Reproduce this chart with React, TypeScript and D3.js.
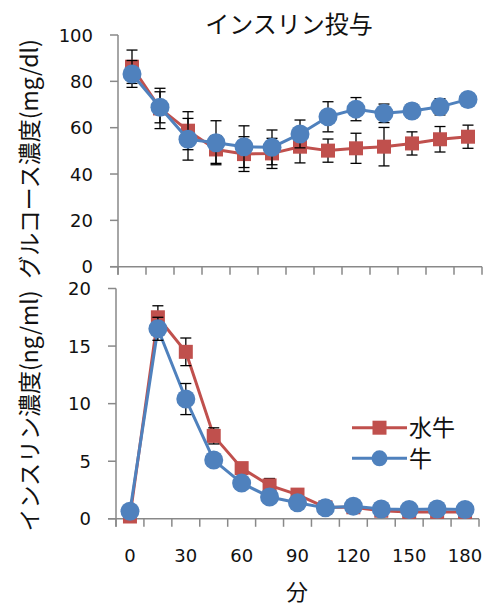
import React, { useRef, useEffect } from 'react';
import * as d3 from 'd3';

// minutes after insulin dose
const minutes = [0, 15, 30, 45, 60, 75, 90, 105, 120, 135, 150, 165, 180];
const xTickLabels = ['0', '30', '60', '90', '120', '150', '180'];

// glucose (mg/dl)
const glucoseTicks = [0, 20, 40, 60, 80, 100];
const glucoseBuffalo = [86.3, 68.3, 58.7, 50.6, 48.6, 48.9, 51.8, 50.1, 51.1, 51.8, 53.2, 55, 56.1];
const glucoseBuffaloErr = [7.2, 8.7, 8.2, 6, 7.5, 6.5, 7, 5, 6.5, 8.3, 5, 5.5, 5];
const glucoseCattle = [83.2, 68.8, 55, 53.5, 51.8, 51.5, 57.3, 64.7, 68, 66.2, 67.2, 69, 72.2];
const glucoseCattleErr = [5.8, 6.7, 9, 9.5, 9, 7.5, 6, 6.5, 5, 4, 3, 3.5, 2];

// insulin (ng/ml)
const insulinTicks = [0, 5, 10, 15, 20];
const insulinBuffalo = [0.2, 17.5, 14.5, 7.2, 4.4, 2.9, 2.1, 1.0, 1.0, 0.7, 0.6, 0.6, 0.6];
const insulinBuffaloErr = [0.1, 1.0, 1.2, 0.7, 0.4, 0.6, 0.3, 0.2, 0.2, 0.1, 0.1, 0.1, 0.1];
const insulinCattle = [0.66, 16.5, 10.4, 5.1, 3.1, 1.9, 1.4, 0.95, 1.1, 0.85, 0.8, 0.85, 0.8];
const insulinCattleErr = [0.1, 1.0, 1.35, 0.3, 0.3, 0.2, 0.2, 0.1, 0.1, 0.1, 0.1, 0.1, 0.1];

const RED = '#C0504D';
const BLUE = '#4F81BD';
const AXIS = '#898989';
const JP = '"Noto Sans CJK JP", "Noto Sans", sans-serif';
const NUM = '"DejaVu Sans", sans-serif';

const drawPanel = (svg, o) => {
  const g = svg.append('g');

  const x = d3.scaleBand().domain(minutes).range([o.x0, o.x1]).padding(0);
  const y = d3.scaleLinear().domain([0, o.max]).range([o.yBottom, o.yTop]);
  const cx = d => x(d) + x.bandwidth() / 2;

  // y axis line + ticks
  g.append('line')
    .attr('x1', o.x0).attr('x2', o.x0)
    .attr('y1', o.yTop).attr('y2', o.yBottom + 8)
    .attr('stroke', AXIS).attr('stroke-width', 1.5);
  g.selectAll('.ytick').data(o.ticks).enter().append('line')
    .attr('x1', o.x0 - 8).attr('x2', o.x0)
    .attr('y1', d => y(d)).attr('y2', d => y(d))
    .attr('stroke', AXIS).attr('stroke-width', 1.5);
  g.selectAll('.ylabel').data(o.ticks).enter().append('text')
    .attr('x', o.x0 - 25)
    .attr('y', d => y(d) + 6.5)
    .attr('text-anchor', 'end')
    .style('font-family', NUM).style('font-size', '18px')
    .attr('fill', '#111')
    .text(d => d);

  // x axis line + ticks between categories
  g.append('line')
    .attr('x1', o.x0 - 8).attr('x2', o.x1)
    .attr('y1', o.yBottom).attr('y2', o.yBottom)
    .attr('stroke', AXIS).attr('stroke-width', 1.5);
  const edges = minutes.map(d => x(d)).concat([o.x1]);
  g.selectAll('.xtick').data(edges).enter().append('line')
    .attr('x1', d => d).attr('x2', d => d)
    .attr('y1', o.yBottom).attr('y2', o.yBottom + 8)
    .attr('stroke', AXIS).attr('stroke-width', 1.5);

  if (o.showXLabels) {
    g.selectAll('.xlabel').data(xTickLabels).enter().append('text')
      .attr('x', d => cx(+d))
      .attr('y', o.yBottom + 43)
      .attr('text-anchor', 'middle')
      .style('font-family', NUM).style('font-size', '18px')
      .attr('fill', '#111')
      .text(d => d);
  }

  const line = d3.line().x((d, i) => cx(minutes[i])).y(d => y(d));

  const series = [
    { vals: o.buffalo, err: o.buffaloErr, color: RED, shape: 'square' },
    { vals: o.cattle, err: o.cattleErr, color: BLUE, shape: 'circle' }
  ];

  // each series: line, error bars, then markers
  series.forEach(s => {
    g.append('path')
      .datum(s.vals)
      .attr('fill', 'none')
      .attr('stroke', s.color)
      .attr('stroke-width', 3)
      .attr('stroke-linejoin', 'round')
      .attr('d', line);

    const eb = g.selectAll(null).data(s.vals).enter().append('g');
    eb.append('line')
      .attr('x1', (d, i) => cx(minutes[i])).attr('x2', (d, i) => cx(minutes[i]))
      .attr('y1', (d, i) => y(d + s.err[i])).attr('y2', (d, i) => y(d - s.err[i]))
      .attr('stroke', '#000').attr('stroke-width', 1.3);
    eb.append('line')
      .attr('x1', (d, i) => cx(minutes[i]) - 5.5).attr('x2', (d, i) => cx(minutes[i]) + 5.5)
      .attr('y1', (d, i) => y(d + s.err[i])).attr('y2', (d, i) => y(d + s.err[i]))
      .attr('stroke', '#000').attr('stroke-width', 1.3);
    eb.append('line')
      .attr('x1', (d, i) => cx(minutes[i]) - 5.5).attr('x2', (d, i) => cx(minutes[i]) + 5.5)
      .attr('y1', (d, i) => y(d - s.err[i])).attr('y2', (d, i) => y(d - s.err[i]))
      .attr('stroke', '#000').attr('stroke-width', 1.3);

    if (s.shape === 'square') {
      g.selectAll(null).data(s.vals).enter().append('rect')
        .attr('x', (d, i) => cx(minutes[i]) - 7)
        .attr('y', d => y(d) - 7)
        .attr('width', 14).attr('height', 14)
        .attr('fill', s.color);
    } else {
      g.selectAll(null).data(s.vals).enter().append('circle')
        .attr('cx', (d, i) => cx(minutes[i]))
        .attr('cy', d => y(d))
        .attr('r', 9.5)
        .attr('fill', s.color);
    }
  });

  // rotated y title
  g.append('text')
    .attr('transform', `translate(37.5,${o.titleY}) rotate(-90)`)
    .attr('text-anchor', 'middle')
    .style('font-family', JP).style('font-size', '23px')
    .attr('fill', '#111')
    .text(o.yTitle);

  return g;
};

const App = () => {
  const svgRef = useRef();

  useEffect(() => {
    const svg = d3.select(svgRef.current);
    svg.selectAll('*').remove();

    svg.append('rect').attr('width', 490).attr('height', 608).attr('fill', '#fff');

    // chart title
    svg.append('text')
      .attr('x', 289).attr('y', 33)
      .attr('text-anchor', 'middle')
      .style('font-family', JP).style('font-size', '24px')
      .attr('fill', '#111')
      .text('インスリン投与');

    drawPanel(svg, {
      x0: 118, x1: 482, yTop: 35, yBottom: 266.7, max: 100,
      ticks: glucoseTicks,
      buffalo: glucoseBuffalo, buffaloErr: glucoseBuffaloErr,
      cattle: glucoseCattle, cattleErr: glucoseCattleErr,
      showXLabels: false,
      yTitle: 'グルコース濃度(mg/dl)', titleY: 159
    });

    drawPanel(svg, {
      x0: 116, x1: 479, yTop: 288.5, yBottom: 518.8, max: 20,
      ticks: insulinTicks,
      buffalo: insulinBuffalo, buffaloErr: insulinBuffaloErr,
      cattle: insulinCattle, cattleErr: insulinCattleErr,
      showXLabels: true,
      yTitle: 'インスリン濃度(ng/ml)', titleY: 411
    });

    // x axis title
    svg.append('text')
      .attr('x', 297).attr('y', 600)
      .attr('text-anchor', 'middle')
      .style('font-family', JP).style('font-size', '22px')
      .attr('fill', '#111')
      .text('分');

    // legend
    const legendData = [
      { label: '水牛', color: RED, shape: 'square', y: 427.7 },
      { label: '牛', color: BLUE, shape: 'circle', y: 458.3 }
    ];
    const legend = svg.append('g');
    const item = legend.selectAll('.legend-item').data(legendData).enter().append('g');
    item.append('line')
      .attr('x1', 352).attr('x2', 407)
      .attr('y1', d => d.y).attr('y2', d => d.y)
      .attr('stroke', d => d.color).attr('stroke-width', 3);
    item.filter(d => d.shape === 'square').append('rect')
      .attr('x', 372.5).attr('y', d => d.y - 7)
      .attr('width', 14).attr('height', 14)
      .attr('fill', d => d.color);
    item.filter(d => d.shape === 'circle').append('circle')
      .attr('cx', 379.5).attr('cy', d => d.y).attr('r', 8)
      .attr('fill', d => d.color);
    item.append('text')
      .attr('x', 409).attr('y', d => d.y + 8.5)
      .style('font-family', JP).style('font-size', '23px')
      .attr('fill', '#111')
      .text(d => d.label);
  }, []);

  return (
    <svg
      ref={svgRef}
      width={490}
      height={608}
      style={{ position: 'absolute', left: 0, top: 0, display: 'block' }}
    />
  );
};

export default App;
